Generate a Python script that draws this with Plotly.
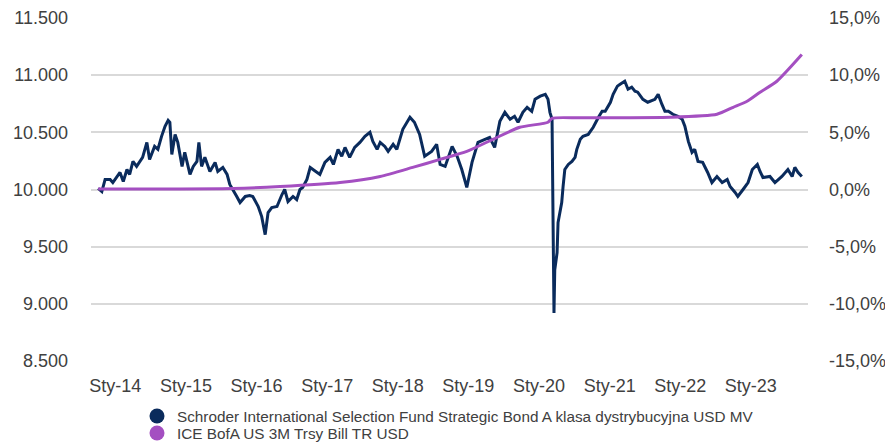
import plotly.graph_objects as go

fund_dates = [
    "2013-10-04", "2013-10-23", "2013-11-09", "2013-12-05", "2013-12-19", "2014-01-25", "2014-02-11",
    "2014-03-02", "2014-03-16", "2014-04-02", "2014-04-21", "2014-05-08", "2014-05-22", "2014-06-13",
    "2014-06-27", "2014-07-23", "2014-08-09", "2014-08-28", "2014-09-15", "2014-10-01", "2014-10-10",
    "2014-10-20", "2014-11-06", "2014-11-20", "2014-12-12", "2014-12-26", "2015-01-22", "2015-02-08",
    "2015-02-27", "2015-03-09", "2015-03-23", "2015-04-09", "2015-05-05", "2015-06-01", "2015-06-15",
    "2015-07-11", "2015-08-02", "2015-08-16", "2015-09-02", "2015-09-21", "2015-10-08", "2015-11-04",
    "2015-11-27", "2015-12-13", "2016-01-10", "2016-01-28", "2016-02-15", "2016-03-01", "2016-03-20",
    "2016-04-16", "2016-05-12", "2016-05-26", "2016-06-12", "2016-07-08", "2016-07-27", "2016-08-13",
    "2016-08-27", "2016-09-18", "2016-10-05", "2016-11-01", "2016-11-24", "2016-12-20", "2017-01-16",
    "2017-02-02", "2017-02-26", "2017-03-17", "2017-04-03", "2017-04-27", "2017-05-23", "2017-06-19",
    "2017-07-15", "2017-08-10", "2017-08-25", "2017-09-16", "2017-10-02", "2017-10-26", "2017-11-12",
    "2017-12-08", "2017-12-27", "2018-01-27", "2018-03-05", "2018-03-28", "2018-04-24", "2018-05-20",
    "2018-06-25", "2018-07-21", "2018-08-08", "2018-09-03", "2018-10-09", "2018-11-04", "2018-11-28",
    "2018-12-24", "2019-01-20", "2019-02-20", "2019-03-26", "2019-04-21", "2019-05-17", "2019-06-13",
    "2019-07-09", "2019-08-05", "2019-08-28", "2019-09-15", "2019-10-10", "2019-11-01", "2019-11-25",
    "2019-12-12", "2020-01-08", "2020-02-03", "2020-02-17", "2020-02-27", "2020-03-09", "2020-03-19",
    "2020-03-23", "2020-04-04", "2020-04-09", "2020-04-28", "2020-05-05", "2020-05-14", "2020-06-01",
    "2020-06-20", "2020-07-06", "2020-07-15", "2020-08-02", "2020-08-16", "2020-09-12", "2020-10-08",
    "2020-11-04", "2020-11-23", "2020-12-09", "2021-01-05", "2021-01-19", "2021-02-10", "2021-02-24",
    "2021-03-20", "2021-04-06", "2021-04-25", "2021-05-12", "2021-05-26", "2021-06-22", "2021-07-17",
    "2021-08-23", "2021-09-09", "2021-09-28", "2021-10-14", "2021-11-01", "2021-11-24", "2021-12-20",
    "2022-01-11", "2022-01-25", "2022-02-12", "2022-03-03", "2022-03-17", "2022-04-03", "2022-04-27",
    "2022-05-23", "2022-06-14", "2022-07-10", "2022-08-06", "2022-09-01", "2022-09-16", "2022-10-12",
    "2022-10-26", "2022-11-22", "2022-12-18", "2023-01-09", "2023-02-04", "2023-02-18", "2023-03-05",
    "2023-04-10", "2023-05-06", "2023-06-11", "2023-07-12", "2023-08-03", "2023-08-17", "2023-09-03",
    "2023-09-22",
]
fund_values = [
    10009, 9982, 10088, 10088, 10061, 10149, 10070,
    10175, 10132, 10246, 10202, 10246, 10281, 10412,
    10263, 10377, 10351, 10465, 10553, 10605, 10588,
    10307, 10482, 10412, 10202, 10325, 10132, 10202,
    10246, 10412, 10202, 10281, 10158, 10237, 10158,
    10193, 10132, 10044, 10000, 9939, 9886, 9939,
    9947, 9939, 9851, 9763, 9605, 9798, 9842,
    9851, 9956, 10000, 9895, 9939, 9912, 10000,
    10018, 10088, 10193, 10158, 10132, 10237, 10281,
    10219, 10351, 10290, 10368, 10281, 10368, 10412,
    10465, 10500, 10421, 10351, 10412, 10377, 10333,
    10395, 10351, 10526, 10632, 10588, 10482, 10290,
    10333, 10395, 10219, 10202, 10377, 10290, 10175,
    10018, 10237, 10412, 10439, 10456, 10368, 10596,
    10675, 10614, 10640, 10588, 10675, 10719, 10684,
    10789, 10816, 10833, 10789, 10675, 10614, 8921,
    9298, 9447, 9711, 9886, 10026, 10175, 10219,
    10246, 10281, 10351, 10439, 10465, 10482, 10544,
    10632, 10684, 10684, 10763, 10833, 10904, 10921,
    10947, 10877, 10895, 10860, 10851, 10789, 10763,
    10789, 10833, 10746, 10684, 10684, 10658, 10640,
    10614, 10553, 10421, 10325, 10351, 10246, 10237,
    10149, 10061, 10114, 10061, 10088, 10026, 9974,
    9939, 10000, 10061, 10175, 10219, 10158, 10105,
    10114, 10061, 10114, 10175, 10114, 10193, 10149,
    10114,
]

bench_dates = [
    "2013-10-04", "2015-09-02", "2016-05-02", "2017-03-08", "2017-10-02", "2018-03-19", "2018-08-08",
    "2018-12-24", "2019-05-08", "2019-09-24", "2020-02-17", "2020-03-09", "2020-08-02", "2021-11-10",
    "2022-07-10", "2022-10-02", "2022-12-13", "2023-02-18", "2023-05-16", "2023-09-22",
]
bench_values = [
    0.0004, 0.0009, 0.0026, 0.0061, 0.0114, 0.0193, 0.0263,
    0.0333, 0.0439, 0.0544, 0.0588, 0.0623, 0.0627, 0.0632,
    0.0658, 0.0719, 0.0772, 0.0851, 0.0947, 0.1180,
]

fund_name = "Schroder International Selection Fund Strategic Bond A klasa dystrybucyjna USD MV"
bench_name = "ICE BofA US 3M Trsy Bill TR USD"

x_tick_vals = ["2014-01-01", "2015-01-01", "2016-01-01", "2017-01-01", "2018-01-01",
               "2019-01-01", "2020-01-01", "2021-01-01", "2022-01-01", "2023-01-01"]
x_tick_text = ["Sty-14", "Sty-15", "Sty-16", "Sty-17", "Sty-18",
               "Sty-19", "Sty-20", "Sty-21", "Sty-22", "Sty-23"]
y_tick_vals = [8500, 9000, 9500, 10000, 10500, 11000, 11500]
y_tick_text = ["8.500", "9.000", "9.500", "10.000", "10.500", "11.000", "11.500"]
y2_tick_vals = [-0.15, -0.10, -0.05, 0.0, 0.05, 0.10, 0.15]
y2_tick_text = ["-15,0%", "-10,0%", "-5,0%", "0,0%", "5,0%", "10,0%", "15,0%"]

navy = "#0a2b5c"
purple = "#a44fc1"
text_color = "#404040"

# page has an 8px body margin, so the figure is drawn 8px smaller and offset
W, H = 885, 434

fig = go.Figure()
fig.add_trace(go.Scatter(x=bench_dates, y=bench_values, yaxis="y2", mode="lines",
                         line=dict(color=purple, width=3, shape="spline", smoothing=0.6),
                         showlegend=False, hoverinfo="skip"))
fig.add_trace(go.Scatter(x=fund_dates, y=fund_values, mode="lines",
                         line=dict(color=navy, width=3),
                         showlegend=False, hoverinfo="skip"))
fig.add_trace(go.Scatter(x=[None], y=[None], mode="markers", name=fund_name,
                         marker=dict(color=navy, size=15, symbol="circle"), legend="legend"))
fig.add_trace(go.Scatter(x=[None], y=[None], mode="markers", name=bench_name,
                         marker=dict(color=purple, size=15, symbol="circle"), legend="legend2"))

legend_common = dict(xref="container", yref="container", xanchor="left", yanchor="middle",
                     orientation="v", font=dict(size=15.3, color=text_color),
                     bgcolor="rgba(0,0,0,0)", itemsizing="trace")

fig.update_layout(
    width=W, height=H,
    margin=dict(l=83, r=85, t=10, b=81, autoexpand=False),
    paper_bgcolor="white", plot_bgcolor="white",
    font=dict(family="Liberation Sans, Arial, sans-serif", color=text_color, size=18),
    xaxis=dict(type="date", range=["2013-08-28", "2023-10-24"],
               tickvals=x_tick_vals, ticktext=x_tick_text, showgrid=False,
               showline=False, zeroline=False, ticks="", ticklabelstandoff=12,
               automargin=False, tickfont=dict(size=18, color=text_color)),
    yaxis=dict(range=[8500, 11500], tickvals=y_tick_vals, ticktext=y_tick_text,
               showgrid=True, gridcolor="#d9d9d9", gridwidth=1.5, zeroline=False,
               showline=False, ticks="", ticklabelstandoff=22, automargin=False,
               tickfont=dict(size=18, color=text_color)),
    yaxis2=dict(range=[-0.15, 0.15], tickvals=y2_tick_vals, ticktext=y2_tick_text,
                overlaying="y", side="right", showgrid=False, zeroline=False,
                showline=False, ticks="", ticklabelstandoff=20, automargin=False,
                tickfont=dict(size=18, color=text_color)),
    legend=dict(x=129 / W, y=1 - 408 / H, **legend_common),
    legend2=dict(x=129 / W, y=1 - 425 / H, **legend_common),
    showlegend=True,
)

fig.write_html("out.html")
